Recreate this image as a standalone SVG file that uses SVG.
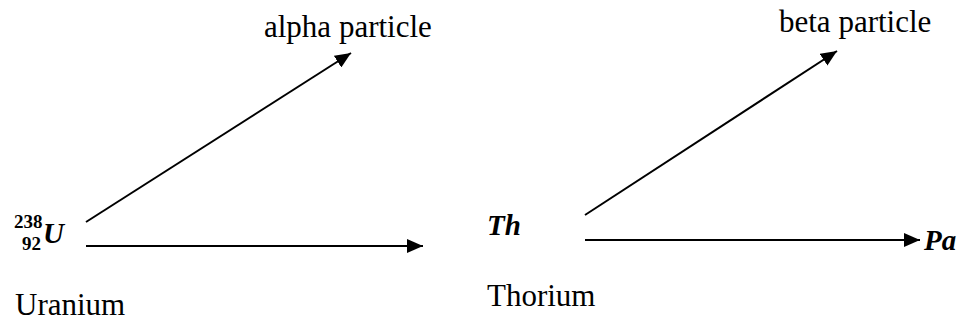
<svg xmlns="http://www.w3.org/2000/svg" width="964" height="323" viewBox="0 0 964 323">
<style>
text{font-family:"Liberation Serif","Times New Roman",serif;fill:#000}
.lbl{font-size:31px}
.sym{font-size:29px;font-weight:bold;font-style:italic}
.iso{font-size:19px;font-weight:bold}
.c{stroke:#000;stroke-width:2;fill:none;marker-end:url(#ah)}
</style>
<defs>
<marker id="ah" markerWidth="8" markerHeight="7" refX="8" refY="3.5" orient="auto" markerUnits="strokeWidth">
<path d="M0,0 L8,3.5 L0,7 Z" fill="#000"/>
</marker>
</defs>
<g id="connectors">
<line class="c" x1="86" y1="222" x2="351" y2="53"/>
<line class="c" x1="86" y1="246" x2="423" y2="246"/>
<line class="c" x1="585" y1="215" x2="837" y2="51"/>
<line class="c" x1="585" y1="240" x2="920" y2="240"/>
</g>
<g id="uranium">
<text class="iso" x="14" y="228">238</text>
<text class="iso" x="22" y="250">92</text>
<text class="sym" x="43" y="243">U</text>
<text class="lbl" x="15" y="315">Uranium</text>
</g>
<g id="alpha"><text class="lbl" x="264" y="37">alpha particle</text></g>
<g id="thorium">
<text class="sym" x="487" y="235">Th</text>
<text class="lbl" x="487" y="306">Thorium</text>
</g>
<g id="beta"><text class="lbl" x="779" y="32">beta particle</text></g>
<g id="pa"><text class="sym" x="924" y="250">Pa</text></g>
</svg>
